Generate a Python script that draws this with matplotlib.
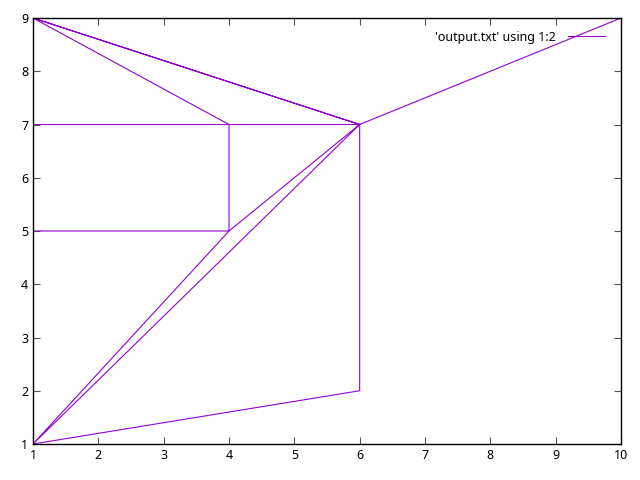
import matplotlib
matplotlib.use('Agg')
import matplotlib.pyplot as plt

plt.rcParams['font.family'] = ['Noto Sans', 'DejaVu Sans']
plt.rcParams['font.size'] = 9

# points of output.txt, in file order
xs = [1, 1, 6, 6, 10, 1, 6, 1, 4, 1, 1, 4, 4, 6, 1, 4, 6]
ys = [9, 1, 2, 7, 9, 9, 7, 9, 7, 7, 5, 5, 7, 7, 1, 5, 7]

fig = plt.figure(figsize=(6.4, 4.8), dpi=100)
ax = fig.add_axes([33/640, 1-444/480, (621-33)/640, (444-18)/480])
ax.plot(xs, ys, color='#9400D3', lw=0.8, label="'output.txt' using 1:2")
ax.set_xlim(1, 10)
ax.set_ylim(1, 9)
ax.set_xticks(range(1, 11))
ax.set_yticks(range(1, 10))
ax.tick_params(direction='in', top=True, right=True, length=5, width=0.8, color='#555555')
for s in ax.spines.values():
    s.set_linewidth(1.0)
    s.set_color('black')
ax.legend(loc='upper right', frameon=False, markerfirst=False, handlelength=2.9,
          handletextpad=1.0, borderaxespad=0.6, borderpad=0.4, fontsize=9,
          bbox_to_anchor=(1 - 4/588, 1))
fig.savefig('out.png', dpi=100)
